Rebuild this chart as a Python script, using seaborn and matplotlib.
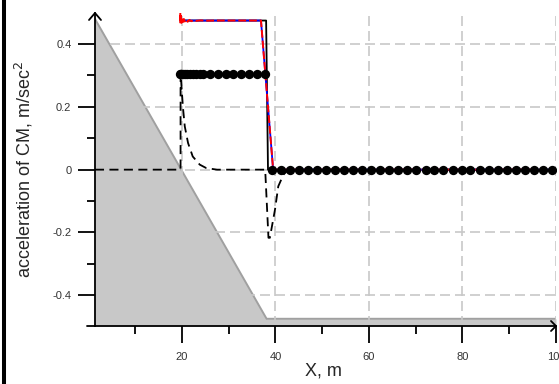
import numpy as np
import pandas as pd
import matplotlib
matplotlib.use("Agg")
import matplotlib.pyplot as plt
from matplotlib.lines import Line2D
import seaborn as sns

# ---------------- data ----------------
slope_x = [1.4, 38.1, 100.0]
slope_y = [0.48, -0.475, -0.475]

red_x = [19.6, 19.65, 19.7, 19.8, 19.9, 20.0, 20.2, 20.4, 20.6, 20.9, 21.2, 21.6,
         22.0, 22.5, 23.0, 24.0, 25.0, 27.0, 30.0, 33.0, 36.9, 39.5, 100.0]
red_y = [0.475, 0.500, 0.462, 0.490, 0.468, 0.482, 0.470, 0.480, 0.472, 0.478,
         0.471, 0.477, 0.473, 0.476, 0.474, 0.4755, 0.4745, 0.475, 0.475, 0.475,
         0.475, 0.0, 0.0]

blue_x = [19.6, 36.9, 39.5, 100.0]
blue_y = [0.475, 0.475, 0.0, 0.0]

black_x = [19.6, 38.0, 38.4, 100.0]
black_y = [0.475, 0.475, 0.0, 0.0]

dash_x = [1.4, 19.7, 19.7, 19.8, 20.2, 20.6, 21.3, 22.3, 23.8, 25.2, 27.5, 37.8,
          38.5, 38.8, 39.9, 40.6, 41.7, 42.8, 100.0]
dash_y = [0.0, 0.0, 0.305, 0.287, 0.200, 0.138, 0.085, 0.042, 0.016, 0.005, 0.0,
          0.0, -0.217, -0.217, -0.127, -0.053, -0.016, 0.0, 0.0]

dots_up_x = [19.6, 19.7, 19.9, 20.2, 20.6, 21.1, 21.7, 22.4, 23.1, 23.8, 24.5,
             26.0, 27.7, 29.4, 30.9, 32.6, 34.3, 36.0, 37.8]
dots_up_y = [0.305] * len(dots_up_x)

dots_low_x = [39.2, 41.1, 43.1, 45.0, 46.9, 48.9, 50.8, 52.7, 54.7, 56.6, 58.5,
              60.5, 62.4, 64.3, 66.3, 68.2, 70.1, 72.1, 74.0, 75.9, 77.9, 79.8,
              81.7, 83.7, 85.6, 87.5, 89.5, 91.4, 93.3, 95.3, 97.2, 99.1]
dots_low_y = [0.0] * len(dots_low_x)

x_major = [20, 40, 60, 80, 100]
x_minor = [10, 30, 50, 70, 90]
y_major = [-0.4, -0.2, 0.0, 0.2, 0.4]
y_major_labels = ["-0.4", "-0.2", "0", "0.2", "0.4"]
y_minor = [-0.3, -0.1, 0.1, 0.3]

# ---------------- style ----------------
sns.set_style("white")
plt.rcParams["font.family"] = ["Liberation Sans", "DejaVu Sans"]

W, H = 559, 384
fig = plt.figure(figsize=(W / 100, H / 100), dpi=100)
ax = fig.add_axes([95 / W, (H - 326) / H, (556 - 95) / W, (326 - 13) / H])
ax.set_xlim(1.4, 100)
ax.set_ylim(-0.498, 0.499)

# incline (grey)
ax.fill_between(slope_x, slope_y, -0.498, color="#c8c8c8", lw=0, zorder=1)
sns.lineplot(x=slope_x, y=slope_y, ax=ax, color="#a0a0a0", lw=1.4, sort=False,
             estimator=None, zorder=2)

# grid
ax.set_xticks(x_major)
ax.set_yticks(y_major)
ax.set_yticklabels(y_major_labels)
ax.set_xticks(x_minor, minor=True)
ax.set_yticks(y_minor, minor=True)
ax.grid(True, which="major", color="#c8c8c8", lw=1.2, linestyle=(0, (6, 3)), zorder=0)
ax.set_axisbelow(False)
for gl in ax.get_xgridlines() + ax.get_ygridlines():
    gl.set_zorder(2.5)

# dashed black
sns.lineplot(x=dash_x, y=dash_y, ax=ax, color="black", lw=1.3, sort=False,
             estimator=None, zorder=3)
ax.lines[-1].set_dashes((5, 3))

# black solid
sns.lineplot(x=black_x, y=black_y, ax=ax, color="black", lw=1.3, sort=False,
             estimator=None, zorder=4)
# blue
sns.lineplot(x=blue_x, y=blue_y, ax=ax, color="#0000ff", lw=1.3, sort=False,
             estimator=None, zorder=5)
# red
sns.lineplot(x=red_x, y=red_y, ax=ax, color="#ff0000", lw=1.4, sort=False,
             estimator=None, zorder=6)
ax.lines[-1].set_dashes((4, 1.5))

# dots
sns.scatterplot(x=dots_up_x, y=dots_up_y, ax=ax, color="black", s=45, lw=0, zorder=7)
sns.scatterplot(x=dots_low_x, y=dots_low_y, ax=ax, color="black", s=45, lw=0, zorder=7)

# spines / ticks
for s in ["top", "right"]:
    ax.spines[s].set_visible(False)
for s in ["left", "bottom"]:
    ax.spines[s].set_color("black")
    ax.spines[s].set_linewidth(1.3)
    ax.spines[s].set_zorder(8)
ax.tick_params(which="major", direction="out", length=12, width=1.3, color="black",
               labelsize=8, labelcolor="#333333")
ax.tick_params(axis="y", which="major", pad=5)
ax.tick_params(axis="x", which="major", pad=7)
ax.tick_params(which="minor", direction="out", length=6, width=1.3, color="black")
ax.tick_params(left=True, bottom=True, which="both")

# extend bottom axis left and add arrowheads
ax.plot([-8 / 461, 0], [0, 0], transform=ax.transAxes, color="black", lw=1.3,
        clip_on=False, zorder=8)
# y-axis arrowhead (top)
ax.plot([-6 / 461, 0, 6 / 461], [1 - 7 / 313, 1, 1 - 7 / 313], transform=ax.transAxes,
        color="black", lw=1.3, clip_on=False, zorder=8)
# x-axis arrowhead (right)
ax.plot([1 - 5 / 461, 1, 1 - 5 / 461], [5 / 313, 0, -5 / 313], transform=ax.transAxes,
        color="black", lw=1.3, clip_on=False, zorder=8)

ax.set_xlabel("X, m", fontsize=13)
ax.set_ylabel("acceleration of CM, m/sec$^2$", fontsize=13)
ax.xaxis.set_label_coords(0.495, -0.118)
ax.yaxis.set_label_coords(-0.130, 0.5)

# left black bar
fig.add_artist(Line2D([3.7 / W, 3.7 / W], [0, 1], color="black", lw=2.9))

fig.savefig("out.png", dpi=100)
